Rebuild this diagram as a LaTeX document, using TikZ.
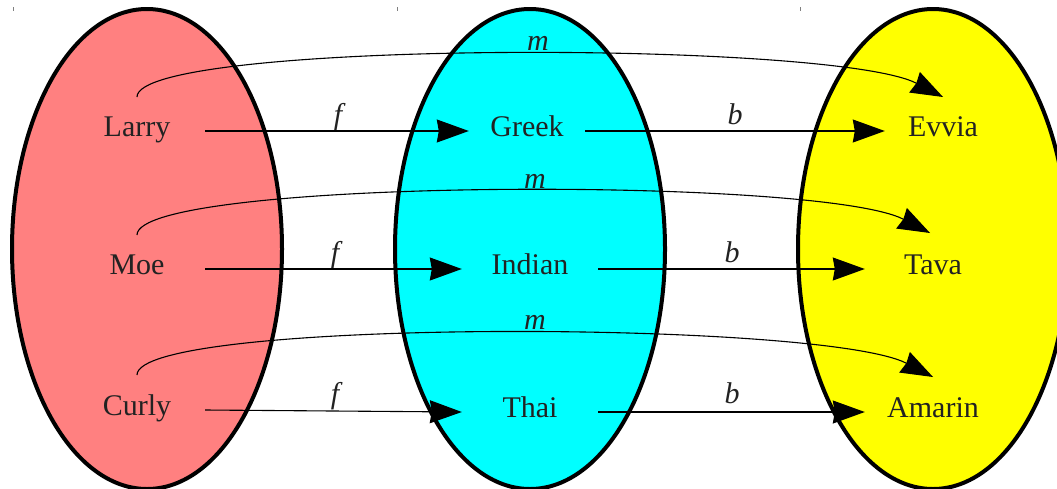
\documentclass[tikz,border=0pt]{standalone}
\usepackage{fontspec}
\setmainfont{Liberation Serif}
\usetikzlibrary{arrows.meta,calc}
\definecolor{setred}{HTML}{FF8080}
\definecolor{setcyan}{HTML}{00FFFF}
\definecolor{setyellow}{HTML}{FFFF00}
\definecolor{textgray}{HTML}{222222}
\begin{document}
\begin{tikzpicture}[x=1pt,y=-1pt,
  setbox/.style={line width=4pt,draw=black},
  elem/.style={font=\fontsize{30}{36}\selectfont, text=textgray, anchor=base, inner sep=0pt, minimum width=136pt},
  narrow/.style={minimum width=116pt},
  lab/.style={font=\fontsize{30}{36}\selectfont\itshape, text=textgray, anchor=base, inner sep=0pt},
  conn/.style={line width=1.1pt, -{Stealth[length=32pt,width=23pt,inset=2pt]}},
  tick/.style={draw=gray, line width=0.8pt}
]
\useasboundingbox (0,0) rectangle (1057,488);
% tick marks
\draw[tick] (13,7) -- (13,11);
\draw[tick] (397,7) -- (397,11);
\draw[tick] (800,7) -- (800,11);
% sets
\filldraw[setbox, fill=setred] (147,249) ellipse [x radius=135pt, y radius=240pt];
\filldraw[setbox, fill=setcyan] (530,249) ellipse [x radius=135pt, y radius=240pt];
\filldraw[setbox, fill=setyellow] (933,249) ellipse [x radius=135pt, y radius=240pt];
% elements
\node[elem] (Larry) at (137,136) {Larry};
\node[elem] (Moe) at (137,274) {Moe};
\node[elem] (Curly) at (137,415) {Curly};
\node[elem,narrow] (Greek) at (527,136) {Greek};
\node[elem] (Indian) at (530,274) {Indian};
\node[elem] (Thai) at (530,417) {Thai};
\node[elem,narrow] (Evvia) at (943,136) {Evvia};
\node[elem] (Tava) at (933,274) {Tava};
\node[elem] (Amarin) at (933,417) {Amarin};
% labels
\node[lab] (f1) at (338,124) {f};
\node[lab] (f2) at (335,262) {f};
\node[lab] (f3) at (335,403) {f};
\node[lab] (b1) at (735,124) {b};
\node[lab] (b2) at (732,262) {b};
\node[lab] (b3) at (732,403) {b};
\node[lab] (m1) at (538,50) {m};
\node[lab] (m2) at (535,188) {m};
\node[lab] (m3) at (535,329) {m};
% f arrows
\draw[conn] ([yshift=5pt]Larry.base east) -- ([yshift=5pt]Greek.base west);
\draw[conn] ([yshift=5pt]Moe.base east) -- ([yshift=5pt]Indian.base west);
\draw[conn] ([yshift=5pt]Curly.base east) -- ([yshift=5pt]Thai.base west);
% b arrows
\draw[conn] ([yshift=5pt]Greek.base east) -- ([yshift=5pt]Evvia.base west);
\draw[conn] ([yshift=5pt]Indian.base east) -- ([yshift=5pt]Tava.base west);
\draw[conn] ([yshift=5pt]Thai.base east) -- ([yshift=5pt]Amarin.base west);
% m arrows
\draw[conn] ([yshift=39pt]Larry.base) .. controls +(0,-57) and +(-110,-57) .. ([yshift=39pt]Evvia.base);
\draw[conn] ([yshift=39pt]Moe.base) .. controls +(0,-57) and +(-110,-57) .. ([xshift=-3pt,yshift=41pt]Tava.base);
\draw[conn] ([yshift=40pt]Curly.base) .. controls +(0,-57) and +(-110,-57) .. ([yshift=40pt]Amarin.base);
\end{tikzpicture}
\end{document}
